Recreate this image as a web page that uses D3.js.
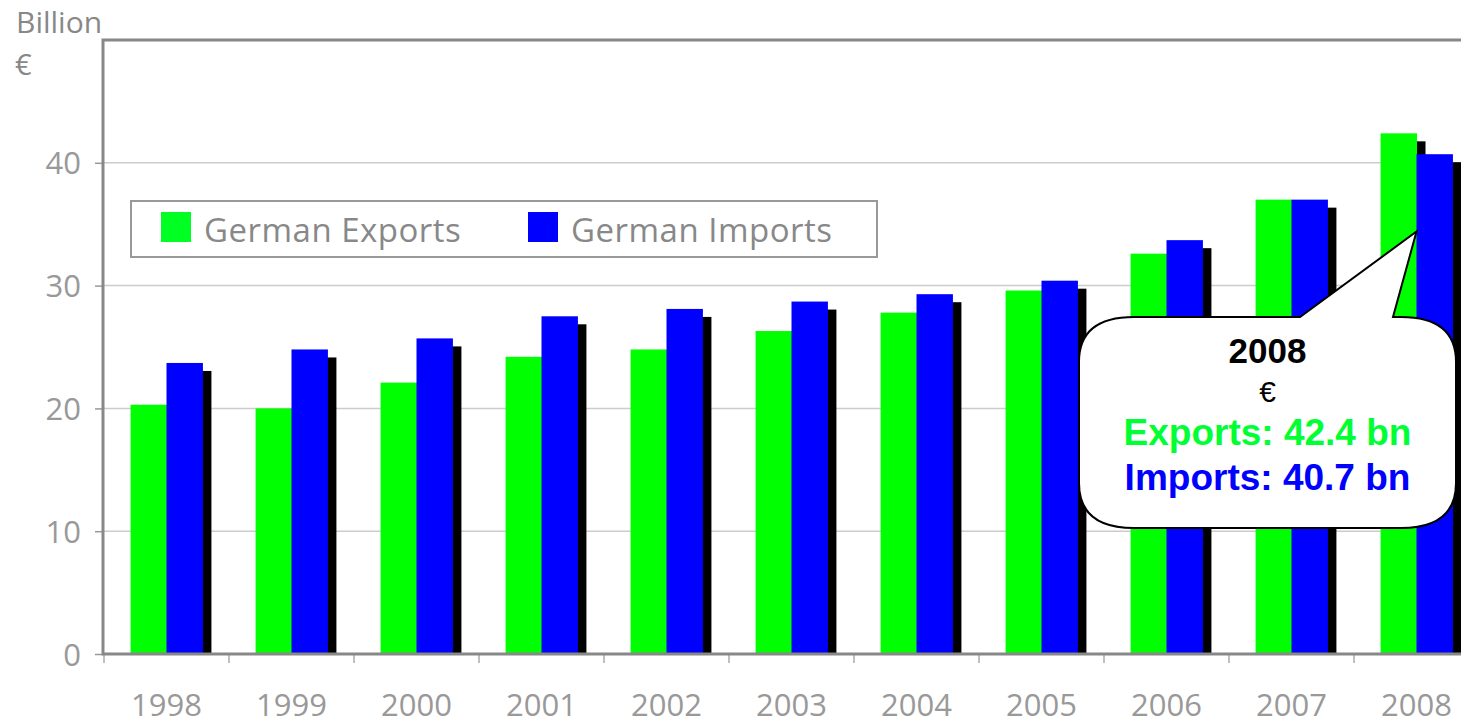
<!DOCTYPE html>
<html lang="en">
<head>
<meta charset="UTF-8" />
<title>German exports and imports</title>
<script src="https://cdn.jsdelivr.net/npm/d3@7"></script>
<style>
  body { margin: 0; background: #fff; }
  svg { display: block; }
  .lbl { font-family: "Open Sans", sans-serif; fill: #999; }
</style>
</head>
<body>
<svg id="svg"></svg>
<script>
const years = ["1998", "1999", "2000", "2001", "2002", "2003", "2004", "2005", "2006", "2007", "2008"];
const exportsBn = [20.3, 20.0, 22.1, 24.2, 24.8, 26.3, 27.8, 29.6, 32.6, 37.0, 42.4];
const importsBn = [23.7, 24.8, 25.7, 27.5, 28.1, 28.7, 29.3, 30.4, 33.7, 37.0, 40.7];
const seriesNames = ["German Exports", "German Imports"];
const seriesColors = ["#00ff00", "#0000ff"];
const yTicks = [0, 10, 20, 30, 40];

const W = 1461, H = 727;
const plotLeft = 104, plotTop = 40, plotBottom = 654;

const svg = d3.select("#svg").attr("width", W).attr("height", H);

const x = d3.scaleBand().domain(years).range([plotLeft, plotLeft + 125 * years.length]).padding(0);
const x1 = d3.scaleBand().domain(seriesNames).range([0, x.bandwidth()])
  .paddingInner(0).paddingOuter(0.74);
const y = d3.scaleLinear().domain([0, 50]).range([plotBottom, plotTop]);

const rows = years.map((yr, i) => ({ year: yr, vals: [exportsBn[i], importsBn[i]] }));

// grid lines
svg.append("g")
  .selectAll("line")
  .data(yTicks.filter(d => d > 0))
  .join("line")
  .attr("x1", plotLeft).attr("x2", W)
  .attr("y1", d => y(d)).attr("y2", d => y(d))
  .attr("stroke", "#cccccc").attr("stroke-width", 1.5);

// bars with drop shadow
const groups = svg.append("g")
  .selectAll("g")
  .data(rows)
  .join("g")
  .attr("transform", d => `translate(${x(d.year)},0)`);

const sdx = 9, sdy = 8;
groups.selectAll("rect.shadow")
  .data(d => d.vals.map((v, k) => ({ key: seriesNames[k], v })))
  .join("rect")
  .attr("class", "shadow")
  .attr("x", d => x1(d.key) + sdx)
  .attr("y", d => y(d.v) + sdy)
  .attr("width", x1.bandwidth())
  .attr("height", d => plotBottom - y(d.v) - sdy)
  .attr("fill", "#000");

groups.selectAll("rect.bar")
  .data(d => d.vals.map((v, k) => ({ key: seriesNames[k], v, k })))
  .join("rect")
  .attr("class", "bar")
  .attr("x", d => x1(d.key))
  .attr("y", d => y(d.v))
  .attr("width", x1.bandwidth() + 0.5)
  .attr("height", d => plotBottom - y(d.v))
  .attr("fill", d => seriesColors[d.k]);

// y axis
const yAxis = svg.append("g")
  .attr("transform", `translate(${plotLeft - 1},0)`)
  .call(d3.axisLeft(y).tickValues(yTicks).tickSize(8).tickPadding(14));
yAxis.select(".domain").remove();
yAxis.selectAll("line").attr("stroke", "#999").attr("stroke-width", 1.5);
yAxis.selectAll("text")
  .attr("class", "lbl")
  .style("font-size", "31px")
  .attr("dy", "0.36em");

// x axis
const xAxis = svg.append("g")
  .attr("transform", `translate(0,${plotBottom})`)
  .call(d3.axisBottom(x).tickSize(0).tickPadding(40));
xAxis.select(".domain").remove();
xAxis.selectAll("text")
  .attr("class", "lbl")
  .style("font-size", "31px");
svg.append("g")
  .selectAll("line")
  .data(years)
  .join("line")
  .attr("x1", d => x(d)).attr("x2", d => x(d))
  .attr("y1", plotBottom).attr("y2", plotBottom + 9)
  .attr("stroke", "#aaa").attr("stroke-width", 1.5);

// frame: left, top, bottom
svg.append("path")
  .attr("d", `M${W},${plotTop}H${plotLeft - 1}V${plotBottom}H${W}`)
  .attr("fill", "none")
  .attr("stroke", "#888")
  .attr("stroke-width", 3);

// unit label
svg.append("text").attr("class", "lbl").attr("x", 16).attr("y", 33)
  .style("font-size", "30px").style("fill", "#888").text("Billion");
svg.append("text").attr("class", "lbl").attr("x", 15).attr("y", 75)
  .style("font-size", "29px").style("fill", "#888").text("€");

// legend
const legend = svg.append("g");
legend.append("rect")
  .attr("x", 131).attr("y", 201).attr("width", 746).attr("height", 56)
  .attr("fill", "#fff").attr("stroke", "#999").attr("stroke-width", 2);
const legendX = [161, 528];
seriesNames.forEach((name, i) => {
  legend.append("rect")
    .attr("x", legendX[i]).attr("y", 212).attr("width", 30).attr("height", 30)
    .attr("fill", i === 0 ? "#00ff22" : seriesColors[i]);
  legend.append("text")
    .attr("class", "lbl")
    .attr("x", legendX[i] + 43).attr("y", 242)
    .style("font-size", "33px").style("fill", "#888")
    .style("letter-spacing", "0.5px")
    .text(name);
});

// callout for the last year
const last = years.length - 1;
const tipX = x(years[last]) + x1(seriesNames[1]);
const tipY = y(34.4);
const bx0 = 1079, bx1 = 1456, by0 = 317, by1 = 528, rx = 55, ry = 45;
const callPath = [
  `M${bx0 + rx},${by0}`,
  `H1300`,
  `L${tipX},${tipY}`,
  `L1393,${by0}`,
  `H${bx1 - rx}`,
  `Q${bx1},${by0} ${bx1},${by0 + ry}`,
  `V${by1 - ry}`,
  `Q${bx1},${by1} ${bx1 - rx},${by1}`,
  `H${bx0 + rx}`,
  `Q${bx0},${by1} ${bx0},${by1 - ry}`,
  `V${by0 + ry}`,
  `Q${bx0},${by0} ${bx0 + rx},${by0}`,
  "Z"
].join("");
svg.append("path")
  .attr("d", callPath)
  .attr("fill", "#fff")
  .attr("stroke", "#000")
  .attr("stroke-width", 2);

const cx = (bx0 + bx1) / 2;
const callTxt = svg.append("g")
  .style("font-family", "'Liberation Sans', Arial, sans-serif")
  .attr("text-anchor", "middle");
callTxt.append("text").attr("x", cx).attr("y", 363)
  .style("font-size", "35px").style("font-weight", "bold").attr("fill", "#000")
  .text(years[last]);
callTxt.append("text").attr("x", cx).attr("y", 402)
  .style("font-size", "30px").attr("fill", "#000").text("€");
callTxt.append("text").attr("x", cx).attr("y", 445)
  .style("font-size", "37px").style("font-weight", "bold").attr("fill", "#00ff33")
  .text(`Exports: ${exportsBn[last].toFixed(1)} bn`);
callTxt.append("text").attr("x", cx).attr("y", 490)
  .style("font-size", "37px").style("font-weight", "bold").attr("fill", "#0000ff")
  .text(`Imports: ${importsBn[last].toFixed(1)} bn`);
</script>
</body>
</html>
